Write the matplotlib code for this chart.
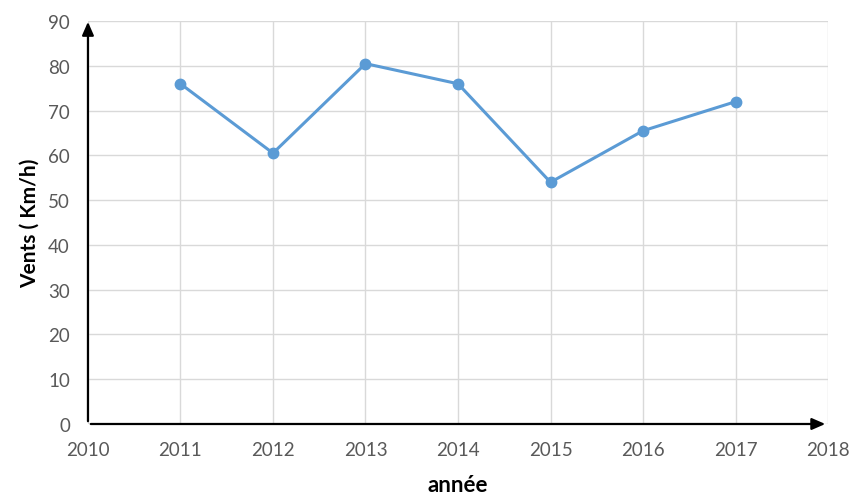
import matplotlib
matplotlib.use("Agg")
import matplotlib.pyplot as plt

# yearly wind peaks
years = [2011, 2012, 2013, 2014, 2015, 2016, 2017]
vents = [76, 60.5, 80.5, 76, 54, 65.5, 72]
x_ticks = list(range(2010, 2019))
y_ticks = list(range(0, 100, 10))

plt.rcParams["font.family"] = ["Lato", "DejaVu Sans"]

fig = plt.figure(figsize=(8.54, 5.02), dpi=100)
ax = fig.add_axes([0.103, 0.1534, 0.8666, 0.8026])

ax.plot(years, vents, color="#5b9bd5", lw=2.2, marker="o", ms=7.5,
        markerfacecolor="#5b9bd5", markeredgecolor="#5b9bd5", zorder=3)

ax.set_xlim(2010, 2018)
ax.set_ylim(0, 90)
ax.set_xticks(x_ticks)
ax.set_yticks(y_ticks)
ax.grid(True, color="#d9d9d9", lw=1.0)
ax.set_axisbelow(True)
ax.tick_params(length=0, labelsize=13.5, labelcolor="#595959")
ax.tick_params(axis="x", pad=12)
ax.tick_params(axis="y", pad=13)

for side in ("top", "right", "left", "bottom"):
    ax.spines[side].set_visible(False)

# axis arrows
arrow = dict(arrowstyle="-|>,head_length=0.8,head_width=0.35", color="black", lw=1.6)
ax.annotate("", xy=(1.0, 0), xytext=(0, 0), xycoords="axes fraction",
            textcoords="axes fraction", arrowprops=arrow, annotation_clip=False)
ax.annotate("", xy=(0, 1.005), xytext=(0, 0), xycoords="axes fraction",
            textcoords="axes fraction", arrowprops=arrow, annotation_clip=False)

ax.set_ylabel("Vents ( Km/h)", fontsize=15, fontweight="bold", labelpad=6)
ax.set_xlabel("année", fontsize=16, fontweight="bold", labelpad=12)

fig.savefig("out.png", dpi=100, facecolor="white")
